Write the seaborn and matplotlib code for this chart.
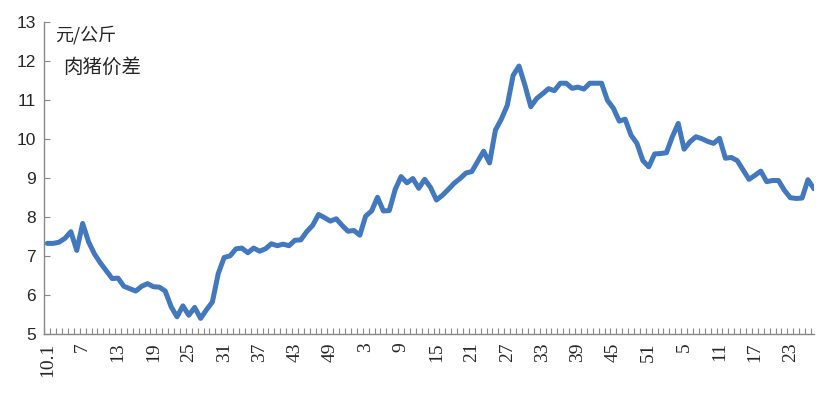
import numpy as np
import pandas as pd
import matplotlib
matplotlib.use('Agg')
import matplotlib.pyplot as plt
import seaborn as sns

# weekly pork price spread, 2010 week 1 onward (yuan/kg)
spread = [7.32, 7.32, 7.35, 7.45, 7.62, 7.14, 7.83, 7.36, 7.05, 6.82,
          6.62, 6.42, 6.43, 6.22, 6.16, 6.10, 6.22, 6.29, 6.21, 6.20,
          6.10, 5.70, 5.44, 5.72, 5.48, 5.68, 5.40, 5.62, 5.82, 6.55,
          6.96, 7.00, 7.18, 7.20, 7.08, 7.20, 7.12, 7.18, 7.31, 7.26,
          7.30, 7.26, 7.40, 7.41, 7.62, 7.78, 8.06, 7.98, 7.89, 7.95,
          7.78, 7.63, 7.65, 7.53, 8.02, 8.15, 8.50, 8.15, 8.16, 8.70,
          9.03, 8.87, 8.98, 8.73, 8.96, 8.75, 8.43, 8.55, 8.70, 8.86,
          8.98, 9.12, 9.16, 9.42, 9.68, 9.38, 10.22, 10.50, 10.85, 11.62,
          11.86, 11.37, 10.82, 11.03, 11.15, 11.28, 11.23, 11.42, 11.42, 11.29,
          11.32, 11.27, 11.42, 11.42, 11.42, 10.98, 10.78, 10.45, 10.50, 10.09,
          9.88, 9.44, 9.28, 9.61, 9.62, 9.64, 10.05, 10.39, 9.73, 9.92,
          10.05, 10.00, 9.93, 9.88, 10.01, 9.50, 9.52, 9.44, 9.20, 8.96,
          9.06, 9.17, 8.90, 8.93, 8.93, 8.68, 8.49, 8.47, 8.48, 8.95,
          8.72]

tick_labels = ['10.1', '7', '13', '19', '25', '31', '37', '43', '49', '3', '9',
               '15', '21', '27', '33', '39', '45', '51', '5', '11', '17', '23']

df = pd.DataFrame({'week': np.arange(len(spread)), 'spread': spread})

sns.set_style('ticks')
plt.rcParams['font.family'] = ['Liberation Sans', 'Noto Sans CJK SC', 'DejaVu Sans']

fig = plt.figure(figsize=(8.27, 3.97), dpi=100)
ax = fig.add_axes([0.0536, 0.1587, 0.9305, 0.7871])

sns.lineplot(data=df, x='week', y='spread', ax=ax, color='#4178BE', linewidth=3.6)

ax.set_ylim(5, 13)
ax.set_yticks(range(5, 14))
ax.set_xlim(-0.5, len(spread) - 1.0)

ax.set_xticks(np.arange(0, 6 * len(tick_labels), 6))
ax.set_xticklabels(tick_labels, rotation=90, family='Liberation Serif', fontsize=14)
ax.set_xticks(np.arange(len(spread)) - 0.5, minor=True)
ax.tick_params(axis='x', which='major', bottom=True, length=0, pad=6)
ax.tick_params(axis='x', which='minor', bottom=True, direction='in', length=4,
               color='#888888', width=0.8)
ax.tick_params(axis='y', which='major', left=True, direction='in', length=4,
               color='#888888', width=0.8, labelsize=12.5, pad=6)

for side in ['top', 'right']:
    ax.spines[side].set_visible(False)
for side in ['left', 'bottom']:
    ax.spines[side].set_color('#888888')
    ax.spines[side].set_linewidth(1.0)

ax.set_xlabel('')
ax.set_ylabel('')

ax.text(0.014, 0.957, '元/公斤', transform=ax.transAxes, fontsize=13,
        family=['Noto Sans CJK SC', 'DejaVu Sans'], va='center', ha='left')
ax.text(0.024, 0.854, '肉猪价差', transform=ax.transAxes, fontsize=14,
        family=['Noto Sans CJK SC', 'DejaVu Sans'], va='center', ha='left')

fig.savefig('out.png', dpi=100)
